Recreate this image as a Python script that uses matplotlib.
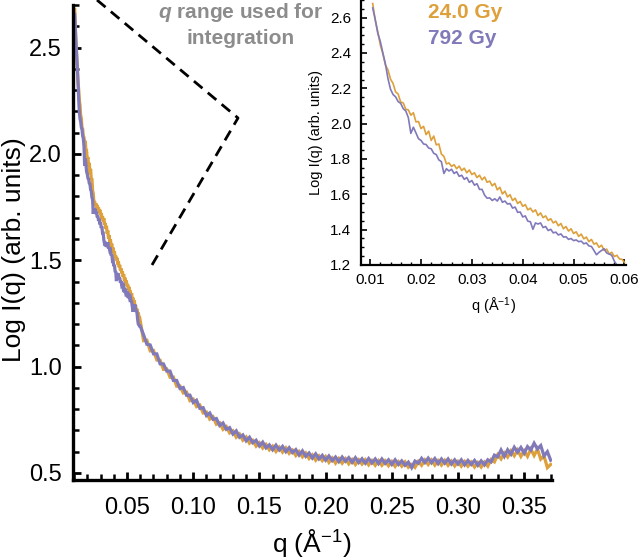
import numpy as np
import matplotlib
matplotlib.use("Agg")
import matplotlib.pyplot as plt
from matplotlib.ticker import MultipleLocator, FormatStrFormatter
from matplotlib.lines import Line2D

plt.rcParams['font.family'] = ['Liberation Sans', 'DejaVu Sans']
plt.rcParams['mathtext.fontset'] = 'custom'
plt.rcParams['mathtext.rm'] = 'Liberation Sans'
plt.rcParams['mathtext.it'] = 'Liberation Sans:italic'
plt.rcParams['mathtext.bf'] = 'Liberation Sans:bold'
plt.rcParams['mathtext.bfit'] = 'Liberation Sans:italic:bold'

# ---------------- data ----------------
labels = ["24.0 Gy", "792 Gy"]
colors = ["#DDA03A", "#8079BA"]

# low-q region (also shown in inset), q from 0.0105 step 0.0005
q_low_start, q_low_step, n_low = 0.0105, 0.0005, 100
low_24 = [2.680, 2.585, 2.520, 2.445, 2.395, 2.332, 2.305, 2.252, 2.228, 2.180,
          2.168, 2.122, 2.118, 2.082, 2.078, 2.048, 2.062, 2.010, 2.012, 1.972,
          1.985, 1.938, 1.958, 1.905, 1.930, 1.880, 1.885, 1.828, 1.815, 1.772,
          1.778, 1.758, 1.768, 1.745, 1.760, 1.735, 1.748, 1.722, 1.738, 1.712,
          1.722, 1.695, 1.708, 1.682, 1.698, 1.668, 1.675, 1.648, 1.662, 1.625,
          1.640, 1.602, 1.618, 1.585, 1.598, 1.565, 1.578, 1.548, 1.560, 1.532,
          1.542, 1.512, 1.522, 1.500, 1.512, 1.480, 1.495, 1.468, 1.478, 1.452,
          1.462, 1.438, 1.448, 1.422, 1.435, 1.405, 1.418, 1.392, 1.405, 1.378,
          1.388, 1.362, 1.375, 1.348, 1.358, 1.332, 1.345, 1.318, 1.325, 1.300,
          1.312, 1.282, 1.290, 1.262, 1.272, 1.248, 1.255, 1.235, 1.232, 1.215]
low_792 = [2.655, 2.590, 2.512, 2.465, 2.400, 2.338, 2.255, 2.195, 2.165, 2.152,
           2.125, 2.115, 2.085, 2.072, 2.035, 1.945, 1.980, 1.948, 1.915, 1.905,
           1.885, 1.882, 1.862, 1.858, 1.832, 1.825, 1.795, 1.785, 1.718, 1.745,
           1.732, 1.742, 1.718, 1.728, 1.702, 1.708, 1.685, 1.695, 1.668, 1.678,
           1.652, 1.660, 1.628, 1.628, 1.595, 1.578, 1.580, 1.565, 1.575, 1.562,
           1.585, 1.555, 1.562, 1.545, 1.548, 1.522, 1.528, 1.498, 1.500, 1.472,
           1.478, 1.448, 1.445, 1.402, 1.438, 1.432, 1.438, 1.412, 1.418, 1.395,
           1.402, 1.382, 1.386, 1.370, 1.376, 1.358, 1.360, 1.345, 1.350, 1.338,
           1.342, 1.332, 1.335, 1.320, 1.325, 1.308, 1.305, 1.282, 1.258, 1.272,
           1.282, 1.292, 1.268, 1.262, 1.255, 1.222, 1.200, 1.195, 1.190, 1.190]

# high-q region, q from 0.0625 step 0.0025
q_high_start, q_high_step, n_high = 0.0625, 0.0025, 124
high_24 = [1.122, 1.124, 1.074, 1.076, 1.031, 1.030, 0.987, 0.989, 0.950, 0.951,
           0.908, 0.909, 0.876, 0.880, 0.840, 0.847, 0.812, 0.819, 0.782, 0.786,
           0.753, 0.764, 0.729, 0.736, 0.705, 0.718, 0.688, 0.698, 0.668, 0.683,
           0.654, 0.669, 0.640, 0.653, 0.626, 0.642, 0.617, 0.634, 0.609, 0.626,
           0.601, 0.621, 0.598, 0.618, 0.592, 0.607, 0.582, 0.601, 0.576, 0.594,
           0.568, 0.585, 0.560, 0.580, 0.558, 0.577, 0.550, 0.570, 0.546, 0.568,
           0.546, 0.567, 0.543, 0.563, 0.540, 0.562, 0.542, 0.562, 0.538, 0.558,
           0.536, 0.558, 0.536, 0.557, 0.534, 0.554, 0.531, 0.553, 0.532, 0.552,
           0.527, 0.540, 0.526, 0.554, 0.536, 0.561, 0.540, 0.561, 0.537, 0.558,
           0.537, 0.559, 0.536, 0.556, 0.533, 0.554, 0.532, 0.554, 0.532, 0.551,
           0.528, 0.549, 0.528, 0.551, 0.532, 0.563, 0.552, 0.586, 0.566, 0.594,
           0.575, 0.604, 0.581, 0.608, 0.578, 0.604, 0.578, 0.612, 0.582, 0.612,
           0.565, 0.580, 0.525, 0.540]
high_792 = [1.150, 1.105, 1.102, 1.060, 1.060, 1.013, 1.013, 0.979, 0.979, 0.935,
            0.935, 0.897, 0.902, 0.865, 0.866, 0.831, 0.842, 0.804, 0.807, 0.770,
            0.782, 0.752, 0.756, 0.723, 0.735, 0.705, 0.713, 0.683, 0.698, 0.668,
            0.679, 0.651, 0.668, 0.642, 0.654, 0.627, 0.645, 0.618, 0.632, 0.609,
            0.631, 0.608, 0.625, 0.600, 0.619, 0.596, 0.610, 0.584, 0.604, 0.578,
            0.594, 0.570, 0.590, 0.566, 0.583, 0.560, 0.580, 0.558, 0.575, 0.553,
            0.575, 0.555, 0.572, 0.550, 0.572, 0.549, 0.567, 0.546, 0.568, 0.547,
            0.566, 0.544, 0.566, 0.545, 0.562, 0.540, 0.562, 0.540, 0.557, 0.536,
            0.551, 0.525, 0.556, 0.546, 0.569, 0.549, 0.570, 0.548, 0.568, 0.544,
            0.566, 0.546, 0.566, 0.542, 0.562, 0.542, 0.562, 0.538, 0.559, 0.540,
            0.559, 0.536, 0.557, 0.538, 0.562, 0.552, 0.584, 0.576, 0.608, 0.578,
            0.609, 0.588, 0.621, 0.598, 0.620, 0.593, 0.624, 0.608, 0.640, 0.613,
            0.629, 0.580, 0.600, 0.560]

q_low = q_low_start + q_low_step * np.arange(n_low)
q_high = q_high_start + q_high_step * np.arange(n_high)
q_all = np.concatenate([q_low, q_high])
main_series = [np.concatenate([low_24, high_24]), np.concatenate([low_792, high_792])]
inset_series = [np.array(low_24), np.array(low_792)]

# ---------------- figure ----------------
W, H = 640, 559
fig = plt.figure(figsize=(W / 100, H / 100), dpi=100)

def px_rect(l, t, r, b):
    return [l / W, 1 - b / H, (r - l) / W, (b - t) / H]

ax = fig.add_axes(px_rect(73, 5, 552, 480))
for s, c in zip(main_series, colors):
    ax.plot(q_all, s, color=c, lw=2.3, solid_joinstyle='miter')
ax.set_xlim(0.0092, 0.371)
ax.set_ylim(0.467, 2.70)
for sp in ['top', 'right']:
    ax.spines[sp].set_visible(False)
for sp in ['left', 'bottom']:
    ax.spines[sp].set_linewidth(2.4)
ax.xaxis.set_major_locator(MultipleLocator(0.05))
ax.xaxis.set_minor_locator(MultipleLocator(0.01))
ax.yaxis.set_major_locator(MultipleLocator(0.5))
ax.yaxis.set_minor_locator(MultipleLocator(0.1))
ax.xaxis.set_major_formatter(FormatStrFormatter('%.2f'))
ax.yaxis.set_major_formatter(FormatStrFormatter('%.1f'))
ax.tick_params(which='major', direction='in', length=6, width=2, labelsize=17, pad=8)
ax.tick_params(which='minor', direction='in', length=4, width=1.8)
ax.tick_params(axis='x', which='major', pad=12)
ax.set_xlabel(r'q (Å$^{-1}$)', fontsize=19, va='center')
ax.xaxis.set_label_coords(0.499, (480 - 543) / 475)
ax.set_ylabel('Log I(q) (arb. units)', fontsize=19, va='center')
ax.yaxis.set_label_coords((14 - 73) / 479, 0.5 - (242.5 - 235) / 475)

# dashed pointer lines (figure pixel positions)
xs = [97, 238, 152]
ys = [0, 118, 265]
fig.add_artist(Line2D([x / W for x in xs], [1 - y / H for y in ys], transform=fig.transFigure,
                      color='black', lw=2.0, ls=(0, (4, 2.5))))

fig.text(241 / W, 1 - 13 / H, r'$\mathbfit{q}$ range used for', color='#8C8C8C',
         fontsize=15, fontweight='bold', ha='center', va='center')
fig.text(241 / W, 1 - 38 / H, 'integration', color='#8C8C8C',
         fontsize=15, fontweight='bold', ha='center', va='center')

# inset
ax2 = fig.add_axes(px_rect(361, 0, 626, 265))
for s, c in zip(inset_series, colors):
    ax2.plot(q_low, s, color=c, lw=1.2)
ax2.set_xlim(0.0082, 0.0603)
ax2.set_ylim(1.2, 2.70)
for sp in ['top', 'right']:
    ax2.spines[sp].set_visible(False)
for sp in ['left', 'bottom']:
    ax2.spines[sp].set_linewidth(1.6)
ax2.xaxis.set_major_locator(MultipleLocator(0.01))
ax2.xaxis.set_minor_locator(MultipleLocator(0.002))
ax2.yaxis.set_major_locator(MultipleLocator(0.2))
ax2.yaxis.set_minor_locator(MultipleLocator(0.05))
ax2.xaxis.set_major_formatter(FormatStrFormatter('%.2f'))
ax2.yaxis.set_major_formatter(FormatStrFormatter('%.1f'))
ax2.tick_params(which='major', direction='in', length=4, width=1.2, labelsize=11)
ax2.tick_params(axis='y', which='major', pad=7)
ax2.tick_params(axis='x', which='major', pad=6)
ax2.tick_params(which='minor', direction='in', length=2.5, width=1.0)
ax2.set_xlabel(r'q (Å$^{-1}$)', fontsize=10.5, labelpad=6)
ax2.set_ylabel('Log I(q) (arb. units)', fontsize=10.5, labelpad=5)

fig.text(428 / W, 1 - 13 / H, labels[0], color=colors[0], fontsize=15,
         fontweight='bold', ha='left', va='center')
fig.text(428 / W, 1 - 38 / H, labels[1], color=colors[1], fontsize=15,
         fontweight='bold', ha='left', va='center')

fig.savefig('out.png', dpi=100)
